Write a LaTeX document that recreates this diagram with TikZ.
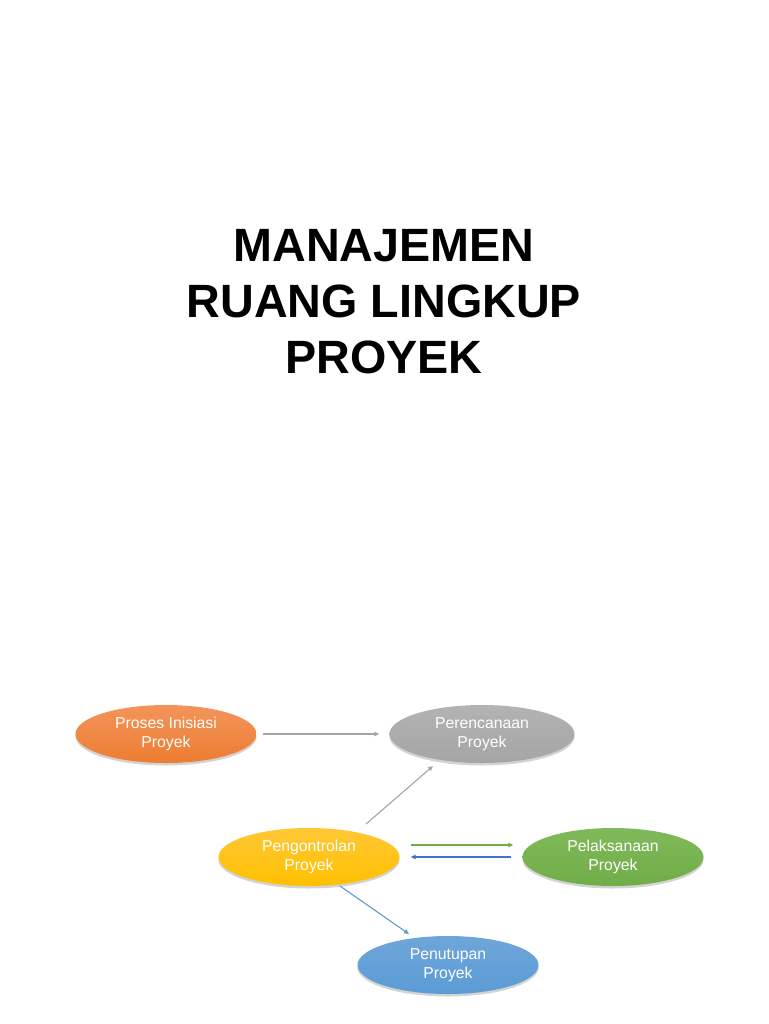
\documentclass[tikz,border=0pt]{standalone}
\usepackage{fontspec}
\setmainfont{Liberation Sans}
\usetikzlibrary{shapes.geometric,arrows.meta,shadows}
\definecolor{cOrange}{HTML}{ED7D31}
\definecolor{cOrangeT}{HTML}{F3945A}
\definecolor{cGray}{HTML}{A5A5A5}
\definecolor{cGrayT}{HTML}{B3B3B3}
\definecolor{cYellow}{HTML}{FFC000}
\definecolor{cYellowT}{HTML}{FFC735}
\definecolor{cGreen}{HTML}{70AD47}
\definecolor{cGreenT}{HTML}{80B95B}
\definecolor{cBlue}{HTML}{5B9BD5}
\definecolor{cBlueT}{HTML}{6FA6DA}
\definecolor{cDBlue}{HTML}{4472C4}
\begin{document}
\begin{tikzpicture}[x=1pt,y=-1pt,
  phase/.style={ellipse, minimum width=181pt, minimum height=58pt, inner sep=0pt,
    text=white, align=center, font=\fontsize{15.8}{19.5}\selectfont,
    drop shadow={opacity=0.35, shadow xshift=0pt, shadow yshift=-2.5pt}},
  conn/.style={line width=1.1pt, -{Triangle[length=5pt,width=4.5pt]}},
  title/.style={font=\fontsize{46.7}{56}\selectfont\bfseries, align=center, inner sep=0pt}]
\useasboundingbox (0,0) rectangle (768,1024);
\node[title] (t) at (384,302) {MANAJEMEN\\RUANG LINGKUP\\PROYEK};
\node[phase, top color=cOrangeT, bottom color=cOrange] (a) at (166,734) {Proses Inisiasi\\Proyek};
\node[phase, top color=cGrayT, bottom color=cGray, minimum width=185pt] (b) at (482,734) {Perencanaan\\Proyek};
\node[phase, top color=cYellowT, bottom color=cYellow] (c) at (309,857) {Pengontrolan\\Proyek};
\node[phase, top color=cGreenT, bottom color=cGreen] (d) at (613,857) {Pelaksanaan\\Proyek};
\node[phase, top color=cBlueT, bottom color=cBlue] (e) at (448,965) {Penutupan\\Proyek};
\coordinate (c1) at ([shift={(57,-33)}]c.center);
\coordinate (b1) at ([shift={(-49,32)}]b.center);
\coordinate (c2) at ([shift={(31,29)}]c.center);
\coordinate (e1) at ([shift={(-39,-31)}]e.center);
\draw[conn, cGray] ([xshift=6pt]a.east) -- ([xshift=-10pt]b.west);
\draw[conn, cGray] (c1) -- (b1);
\draw[conn, cGreen] ([xshift=11pt,yshift=12pt]c.east) -- ([xshift=-9pt,yshift=12pt]d.west);
\draw[conn, cDBlue] ([xshift=-11pt]d.west) -- ([xshift=11pt]c.east);
\draw[conn, cBlue] (c2) -- (e1);
\end{tikzpicture}
\end{document}
